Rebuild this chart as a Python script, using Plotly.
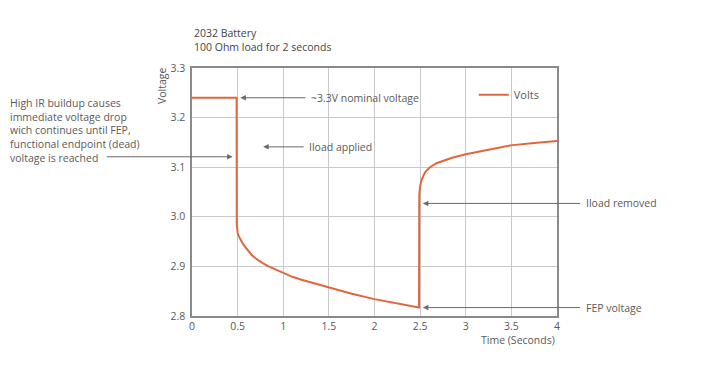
import plotly.graph_objects as go

# Data
time_s = [0, 0.489, 0.491, 0.495, 0.5, 0.51, 0.525, 0.55, 0.58, 0.62, 0.654, 0.7, 0.727, 0.78, 0.84, 0.9,
          1.0, 1.1, 1.2, 1.35, 1.5, 1.75, 2.0, 2.25, 2.488,
          2.491, 2.5, 2.517, 2.535, 2.553, 2.58, 2.608, 2.68, 2.75, 2.85, 3.0, 3.23, 3.49, 3.75, 4.0]
volts = [3.24, 3.24, 2.985, 2.975, 2.968, 2.962, 2.956, 2.948, 2.940, 2.931, 2.923, 2.916, 2.912, 2.906, 2.900,
         2.895, 2.886, 2.879, 2.873, 2.865, 2.857, 2.845, 2.834, 2.825, 2.817,
         3.045, 3.062, 3.075, 3.083, 3.089, 3.095, 3.100, 3.108, 3.113, 3.119, 3.126, 3.135, 3.144, 3.149, 3.153]

x_ticks = [0, 0.5, 1, 1.5, 2, 2.5, 3, 3.5, 4]
x_tick_labels = ["0", "0.5", "1", "1.5", "2", "2.5", "3", "3.5", "4"]
y_ticks = [2.8, 2.9, 3.0, 3.1, 3.2, 3.3]
y_tick_labels = ["2.8", "2.9", "3.0", "3.1", "3.2", "3.3"]

title_lines = ["2032 Battery", "100 Ohm load for 2 seconds"]
left_note = ["High IR buildup causes", "immediate voltage drop", "wich continues until FEP,",
             "functional endpoint (dead)", "voltage is reached"]

# callouts: (text, head_x, head_y, tail_x)
callouts = [
    ("~3.3V nominal voltage", 0.53, 3.24, 1.26),
    ("Iload applied", 0.78, 3.141, 1.24),
    ("Iload removed", 2.53, 3.027, 4.27),
    ("FEP voltage", 2.53, 2.817, 4.27),
]
left_arrow = (-0.95, 0.445, 3.121)
X_MAX = 4.0

FONT = "Open Sans"
FS = 10.5
TXT = "#5a5a5a"
ARROW = "#6a6a6a"

fig = go.Figure()
fig.add_trace(go.Scatter(x=time_s, y=volts, mode="lines", name="Volts",
                         line=dict(color="#e0673d", width=2)))

annotations = []
for text, hx, hy, tx in callouts:
    annotations.append(dict(x=hx, y=hy, ax=tx, ay=hy, xref="x", yref="y", axref="x", ayref="y",
                            text="", showarrow=True, arrowhead=2, arrowsize=1.1, arrowwidth=1,
                            arrowcolor=ARROW))
    annotations.append(dict(x=tx / X_MAX, y=hy, xref="paper", yref="y", text=text, showarrow=False,
                            xanchor="left", yanchor="middle", xshift=2,
                            font=dict(family=FONT, size=FS, color=TXT)))

lx0, lx1, ly = left_arrow
annotations.append(dict(x=lx1, y=ly, ax=lx0, ay=ly, xref="x", yref="y", axref="x", ayref="y",
                        text="", showarrow=True, arrowhead=2, arrowsize=1.1, arrowwidth=1,
                        arrowcolor=ARROW))
annotations.append(dict(x=-184 / 365, y=3.174, xref="paper", yref="y", xanchor="left", yanchor="middle",
                        align="left", showarrow=False,
                        text="<br>".join(left_note),
                        font=dict(family=FONT, size=FS, color=TXT)))
# Title
annotations.append(dict(x=0, y=1, xref="paper", yref="paper", xanchor="left", yanchor="bottom",
                        yshift=12, align="left", showarrow=False, text="<br>".join(title_lines),
                        font=dict(family=FONT, size=FS, color="#444444")))
# Axis titles
annotations.append(dict(x=0, y=1, xref="paper", yref="paper", xanchor="center", yanchor="middle",
                        xshift=-30, yshift=-18, textangle=-90, showarrow=False, text="Voltage",
                        font=dict(family=FONT, size=FS, color=TXT)))
annotations.append(dict(x=1, y=0, xref="paper", yref="paper", xanchor="right", yanchor="middle",
                        yshift=-24, showarrow=False, text="Time (Seconds)",
                        font=dict(family=FONT, size=FS, color=TXT)))

fig.update_layout(
    width=700, height=361,
    margin=dict(l=184, r=151, t=60, b=53),
    paper_bgcolor="white", plot_bgcolor="white",
    font=dict(family=FONT, size=FS, color=TXT),
    showlegend=True,
    legend=dict(x=0.772, y=0.951, xanchor="left", yanchor="top", bgcolor="rgba(0,0,0,0)",
                font=dict(family=FONT, size=11, color=TXT)),
    annotations=annotations,
    xaxis=dict(range=[0, X_MAX], tickvals=x_ticks, ticktext=x_tick_labels, showgrid=True,
               gridcolor="#c9c9c9", gridwidth=1, showline=True, linecolor="#8a8a8a", linewidth=1.5,
               mirror=True, zeroline=False, ticks="", ticklen=0,
               tickfont=dict(family=FONT, size=FS, color=TXT)),
    yaxis=dict(range=[2.8, 3.3], tickvals=y_ticks, ticktext=y_tick_labels, showgrid=True,
               gridcolor="#c9c9c9", gridwidth=1, showline=True, linecolor="#8a8a8a", linewidth=1.5,
               mirror=True, zeroline=False, ticks="", ticklen=0, ticklabelstandoff=3,
               tickfont=dict(family=FONT, size=FS, color=TXT)),
)

fig.write_html("out.html")
